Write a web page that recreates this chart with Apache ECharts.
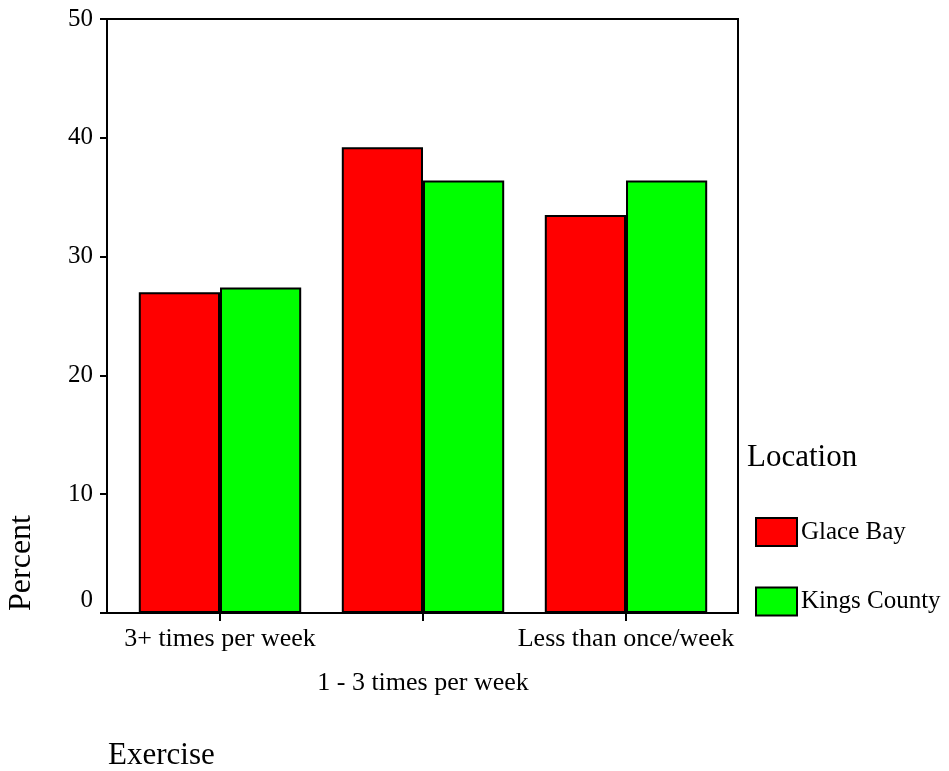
<!DOCTYPE html>
<html>
<head>
<meta charset="utf-8">
<script src="https://cdn.jsdelivr.net/npm/echarts@6/dist/echarts.min.js"></script>
<style>html,body{margin:0;padding:0;background:#fff;}#main{width:949px;height:771px;}</style>
</head>
<body>
<div id="main"></div>
<script>
var categories = ['3+ times per week', '1 - 3 times per week', 'Less than once/week'];
var seriesNames = ['Glace Bay', 'Kings County'];
var glaceBay = [27.0, 39.2, 33.5];
var kingsCounty = [27.4, 36.4, 36.4];
var yTicks = [0, 10, 20, 30, 40, 50];

var FONT = '"Liberation Serif", "Times New Roman", serif';
var chart = echarts.init(document.getElementById('main'));
var option = {
  backgroundColor: '#fff',
  animation: false,
  grid: [
    {left: 107, right: 211, top: 19, bottom: 158, show: true, borderColor: '#000', borderWidth: 2, backgroundColor: 'transparent'},
    {left: 118.5, right: 221.5, top: 19, bottom: 158}
  ],
  xAxis: [
    {gridIndex: 0, type: 'value', show: false, min: 0, max: 1},
    {gridIndex: 1, type: 'category', data: categories,
      axisLine: {show: false},
      axisTick: {show: true, alignWithLabel: true, length: 8, lineStyle: {color: '#000', width: 2}},
      axisLabel: {
        interval: 0, margin: 4, color: '#000', fontSize: 26, fontFamily: FONT, lineHeight: 44,
        formatter: function (v, i) { return i === 1 ? '\n' + v : v; }
      }
    }
  ],
  yAxis: [
    {gridIndex: 0, type: 'value', min: yTicks[0], max: yTicks[yTicks.length - 1], interval: 10,
      axisLine: {show: true, lineStyle: {color: '#000', width: 2}},
      axisTick: {show: true, length: 7, lineStyle: {color: '#000', width: 2}},
      splitLine: {show: false},
      axisLabel: {
        margin: 14, color: '#000', fontSize: 25, fontFamily: FONT,
        formatter: function (v) { return v === 0 ? '{z|0}' : String(v); },
        rich: {z: {fontSize: 25, fontFamily: FONT, color: '#000', padding: [0, 0, 26, 0]}}
      }
    },
    {gridIndex: 1, type: 'value', show: false, min: 0, max: 50}
  ],
  legend: {
    orient: 'vertical', left: 755, top: 517, padding: 0, itemWidth: 41, itemHeight: 28, itemGap: 39.5,
    icon: 'rect', data: seriesNames,
    textStyle: {fontSize: 25, fontFamily: FONT, color: '#000', padding: [0, 0, 0, -1]}
  },
  graphic: [
    {type: 'text', left: 747, top: 442, style: {text: 'Location', fontSize: 31, fontFamily: FONT, fill: '#000'}},
    {type: 'text', x: 22, y: 563, rotation: Math.PI / 2,
      style: {text: 'Percent', fontSize: 32, fontFamily: FONT, fill: '#000', align: 'center', verticalAlign: 'middle'}},
    {type: 'text', x: 108, y: 756,
      style: {text: 'Exercise', fontSize: 31, fontFamily: FONT, fill: '#000', align: 'left', verticalAlign: 'middle'}}
  ],
  series: [
    {name: seriesNames[0], type: 'bar', xAxisIndex: 1, yAxisIndex: 1, data: glaceBay,
      barGap: '0%', barCategoryGap: '20%',
      itemStyle: {color: '#ff0000', borderColor: '#000', borderWidth: 2}},
    {name: seriesNames[1], type: 'bar', xAxisIndex: 1, yAxisIndex: 1, data: kingsCounty,
      barGap: '0%', barCategoryGap: '20%',
      itemStyle: {color: '#00ff00', borderColor: '#000', borderWidth: 2}}
  ]
};
chart.setOption(option);
</script>
</body>
</html>
